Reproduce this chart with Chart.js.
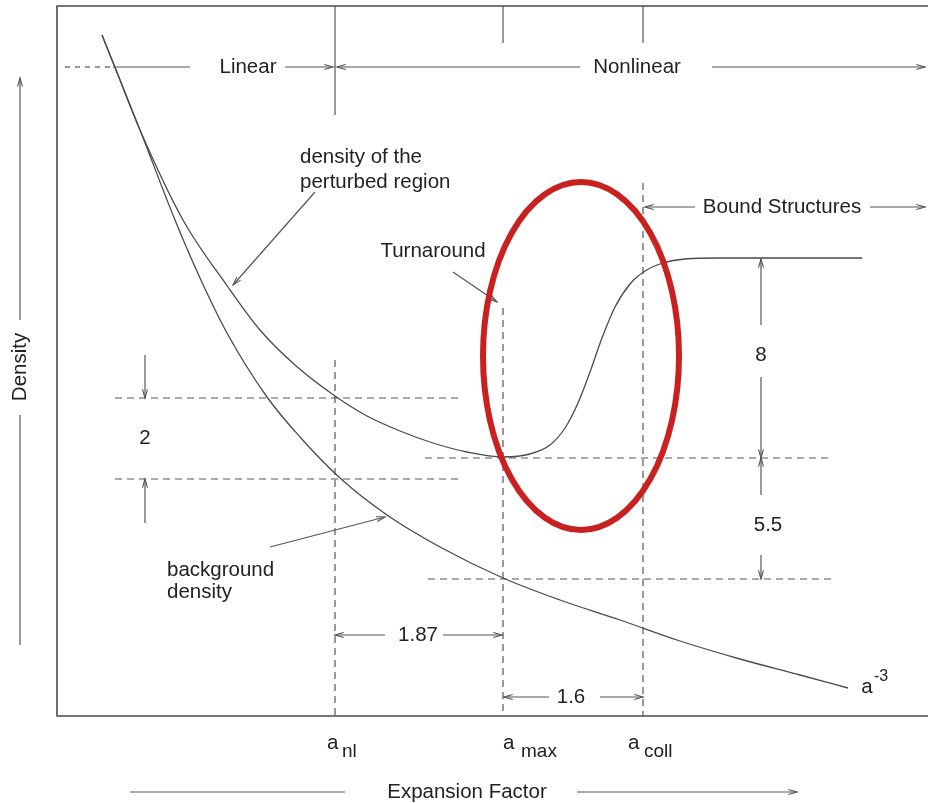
<!DOCTYPE html>
<html lang="en">
<head>
<meta charset="UTF-8">
<title>Density vs Expansion Factor</title>
<script src="https://cdn.jsdelivr.net/npm/chart.js"></script>
<style>
  html, body { margin: 0; padding: 0; background: #fff; }
</style>
</head>
<body>
<canvas id="chart" width="928" height="803"></canvas>
<script>
// schematic units: expansion factor on x, density on y (no real scale)
const aNl = 27.8;
const aMax = 44.6;
const aColl = 58.6;

const rhoPertNl = 31.8;  // perturbed density at a_nl
const rhoBgNl = 23.7;    // background density at a_nl
const rhoTurn = 25.8;    // perturbed density at turnaround
const rhoBgMax = 13.7;   // background density at a_max
const rhoBound = 45.7;   // bound structure plateau

// density of the perturbed region
const pertX = [4.5, 6.1, 8.3, 12.6, 17.1, 20.3, 23.8, 27.8, 31.0, 34.3, 37.6, 41.0, 44.6,
               47.3, 49.3, 50.8, 52.1, 53.3, 54.5, 55.8, 57.3, 58.8, 60.6, 62.8, 66.3, 80.5];
const pertY = [68.1, 64.1, 58.6, 49.6, 42.9, 38.6, 35.1, 32.0, 30.0, 28.5, 27.3, 26.4, 25.9,
               26.2, 27.1, 28.8, 31.3, 34.4, 37.8, 40.9, 43.2, 44.5, 45.3, 45.7, 45.8, 45.8];

// background density (a^-3)
const bgX = [4.5, 6.1, 8.3, 11.8, 14.3, 17.0, 21.0, 24.3, 28.3, 33.0, 38.3, 44.6, 50.3, 56.3, 62.3, 68.3, 74.3, 79.1];
const bgY = [68.1, 64.1, 58.6, 49.6, 43.8, 38.3, 31.9, 27.9, 23.8, 20.1, 16.9, 13.8, 11.6, 9.6, 7.5, 5.7, 4.1, 2.8];

const pts = (xs, ys) => xs.map((x, i) => ({ x: x, y: ys[i] }));

const FONT = '"Liberation Sans", Arial, Helvetica, sans-serif';
const INK = '#222';
const LINE = '#555';

const sketch = {
    id: 'sketch',
    beforeDatasetsDraw(chart) {
        const { ctx, chartArea: a } = chart;
        ctx.save();
        ctx.strokeStyle = '#4a4a4a';
        ctx.lineWidth = 1.6;
        ctx.beginPath();
        ctx.moveTo(a.right, a.top);
        ctx.lineTo(a.left, a.top);
        ctx.lineTo(a.left, a.bottom);
        ctx.lineTo(a.right, a.bottom);
        ctx.stroke();
        ctx.restore();
    },
    afterDraw(chart) {
        const ctx = chart.ctx;
        const X = v => chart.scales.x.getPixelForValue(v);
        const Y = v => chart.scales.y.getPixelForValue(v);

        function line(x1, y1, x2, y2, dash) {
            ctx.save();
            ctx.strokeStyle = LINE;
            ctx.lineWidth = 1.2;
            ctx.setLineDash(dash || []);
            ctx.beginPath();
            ctx.moveTo(X(x1), Y(y1));
            ctx.lineTo(X(x2), Y(y2));
            ctx.stroke();
            ctx.restore();
        }
        function arrow(x1, y1, x2, y2) {
            line(x1, y1, x2, y2);
            const px = X(x2), py = Y(y2);
            const ang = Math.atan2(py - Y(y1), px - X(x1));
            ctx.save();
            ctx.strokeStyle = LINE;
            ctx.lineWidth = 1.1;
            ctx.beginPath();
            ctx.moveTo(px - 9 * Math.cos(ang - 0.28), py - 9 * Math.sin(ang - 0.28));
            ctx.lineTo(px, py);
            ctx.lineTo(px - 9 * Math.cos(ang + 0.28), py - 9 * Math.sin(ang + 0.28));
            ctx.stroke();
            ctx.restore();
        }
        function text(s, x, y, align, size) {
            ctx.save();
            ctx.fillStyle = INK;
            ctx.font = (size || 20.5) + 'px ' + FONT;
            ctx.textAlign = align || 'center';
            ctx.textBaseline = 'middle';
            ctx.fillText(s, X(x), Y(y));
            ctx.restore();
        }

        // regime row at the top
        line(0.8, 64.9, 5.6, 64.9, [5, 5]);
        line(5.6, 64.9, 13.3, 64.9);
        text('Linear', 19.1, 64.9);
        arrow(22.8, 64.9, aNl - 0.2, 64.9);
        arrow(52.3, 64.9, aNl + 0.2, 64.9);
        text('Nonlinear', 58.0, 64.9);
        arrow(65.5, 64.9, 86.8, 64.9);
        line(aNl, 71, aNl, 60.1);
        line(aMax, 71, aMax, 67.3);
        line(aColl, 71, aColl, 67.3);

        // factor 2 at a_nl
        arrow(8.8, 36.1, 8.8, rhoPertNl);
        arrow(8.8, 19.3, 8.8, rhoBgNl);
        text('2', 8.8, 27.8);

        // 8 and 5.5
        arrow(70.4, 39.1, 70.4, rhoBound);
        text('8', 70.4, 36.1);
        arrow(70.4, 33.9, 70.4, rhoTurn);
        arrow(70.4, 22.1, 70.4, rhoTurn);
        text('5.5', 71.1, 19.1);
        arrow(70.4, 16.1, 70.4, rhoBgMax);

        // bound structures
        arrow(63.8, 50.9, aColl + 0.2, 50.9);
        text('Bound Structures', 72.5, 50.9);
        arrow(81.3, 50.9, 86.8, 50.9);

        // 1.87 and 1.6
        arrow(32.8, 8.1, aNl, 8.1);
        text('1.87', 36.1, 8.1);
        arrow(38.6, 8.1, aMax - 0.1, 8.1);
        arrow(49.2, 1.9, aMax + 0.1, 1.9);
        text('1.6', 51.4, 1.9);
        arrow(54.3, 1.9, aColl, 1.9);

        // curve labels
        text('Turnaround', 37.6, 46.5);
        arrow(39.6, 44.4, 44.0, 41.4);
        text('density of the', 24.3, 55.9, 'left');
        text('perturbed region', 24.3, 53.4, 'left');
        arrow(25.8, 52.4, 17.6, 43.1);
        text('background', 11.0, 14.6, 'left');
        text('density', 11.0, 12.4, 'left');
        arrow(21.3, 16.9, 32.8, 19.9);
        text('a', 81.0, 2.9);
        text('-3', 81.7, 3.9, 'left', 16);

        // x labels
        text('a', 27.0, -2.7, 'left');
        text('nl', 28.5, -3.6, 'left', 19);
        text('a', 44.6, -2.7, 'left');
        text('max', 46.4, -3.6, 'left', 19);
        text('a', 57.1, -2.7, 'left');
        text('coll', 58.7, -3.6, 'left', 19);

        // axis titles
        line(7.3, -7.6, 28.8, -7.6);
        text('Expansion Factor', 41.0, -7.6);
        arrow(52.0, -7.6, 74.0, -7.6);

        arrow(-3.7, 39.6, -3.7, 63.8);
        line(-3.7, 30.1, -3.7, 7.1);
        ctx.save();
        ctx.translate(X(-3.7), Y(34.9));
        ctx.rotate(-Math.PI / 2);
        ctx.fillStyle = INK;
        ctx.font = '20.5px ' + FONT;
        ctx.textAlign = 'center';
        ctx.textBaseline = 'middle';
        ctx.fillText('Density', 0, 0);
        ctx.restore();

        // red highlight around the collapse
        const cx = X(52.4), cy = Y(36.0);
        ctx.save();
        ctx.strokeStyle = '#c8211f';
        ctx.lineWidth = 6;
        ctx.beginPath();
        ctx.ellipse(cx, cy, X(52.4 + 9.8) - cx, cy - Y(36.0 + 17.4), 0, 0, Math.PI * 2);
        ctx.stroke();
        ctx.restore();
    }
};

const guide = (data) => ({
    data: data,
    showLine: true,
    borderColor: '#555',
    borderWidth: 1.2,
    borderDash: [7, 5],
    pointRadius: 0
});

new Chart(document.getElementById('chart'), {
    type: 'scatter',
    data: {
        datasets: [
            {
                label: 'density of the perturbed region',
                data: pts(pertX, pertY),
                showLine: true,
                cubicInterpolationMode: 'monotone',
                borderColor: '#4a4a4a',
                borderWidth: 1.3,
                pointRadius: 0
            },
            {
                label: 'background density',
                data: pts(bgX, bgY),
                showLine: true,
                cubicInterpolationMode: 'monotone',
                borderColor: '#4a4a4a',
                borderWidth: 1.3,
                pointRadius: 0
            },
            guide([{ x: aNl, y: 35.6 }, { x: aNl, y: 0 }]),
            guide([{ x: aMax, y: 40.8 }, { x: aMax, y: 0 }]),
            guide([{ x: aColl, y: 53.3 }, { x: aColl, y: 0 }]),
            guide([{ x: 5.8, y: rhoPertNl }, { x: 40.5, y: rhoPertNl }]),
            guide([{ x: 5.8, y: rhoBgNl }, { x: 40.5, y: rhoBgNl }]),
            guide([{ x: 36.8, y: rhoTurn }, { x: 77.3, y: rhoTurn }]),
            guide([{ x: 37.1, y: rhoBgMax }, { x: 77.8, y: rhoBgMax }])
        ]
    },
    options: {
        responsive: false,
        animation: false,
        layout: { padding: { left: 57, top: 6, right: 0, bottom: 87 } },
        plugins: { legend: { display: false }, tooltip: { enabled: false } },
        scales: {
            x: { type: 'linear', min: 0, max: 87.1, display: false },
            y: { type: 'linear', min: 0, max: 71, display: false }
        }
    },
    plugins: [sketch]
});
</script>
</body>
</html>
